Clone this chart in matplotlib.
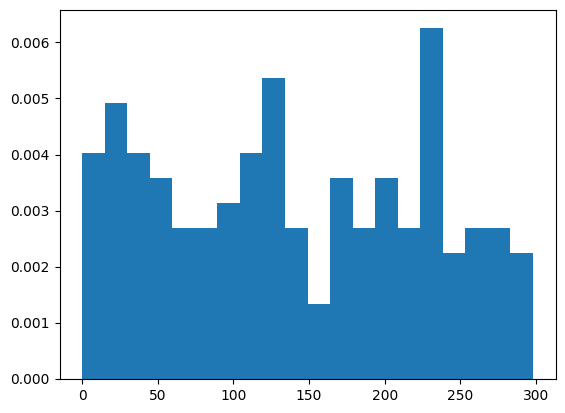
import numpy as np
import matplotlib
matplotlib.use("Agg")
import matplotlib.pyplot as plt

x_min = 0
x_max = 298
n_bins = 20
counts = [9, 11, 9, 8, 6, 6, 7, 9, 12, 6, 3, 8, 6, 8, 6, 14, 5, 6, 6, 5]

edges = np.linspace(x_min, x_max, n_bins + 1)
centers = (edges[:-1] + edges[1:]) / 2

fig, ax = plt.subplots(figsize=(5.65, 4.13), dpi=100)
fig.subplots_adjust(left=59.5 / 565, right=555.5 / 565, top=1 - 10 / 413, bottom=1 - 379 / 413)
ax.hist(centers, bins=edges, weights=counts, density=True, color="#1f77b4")
fig.savefig("out.png", dpi=100)
